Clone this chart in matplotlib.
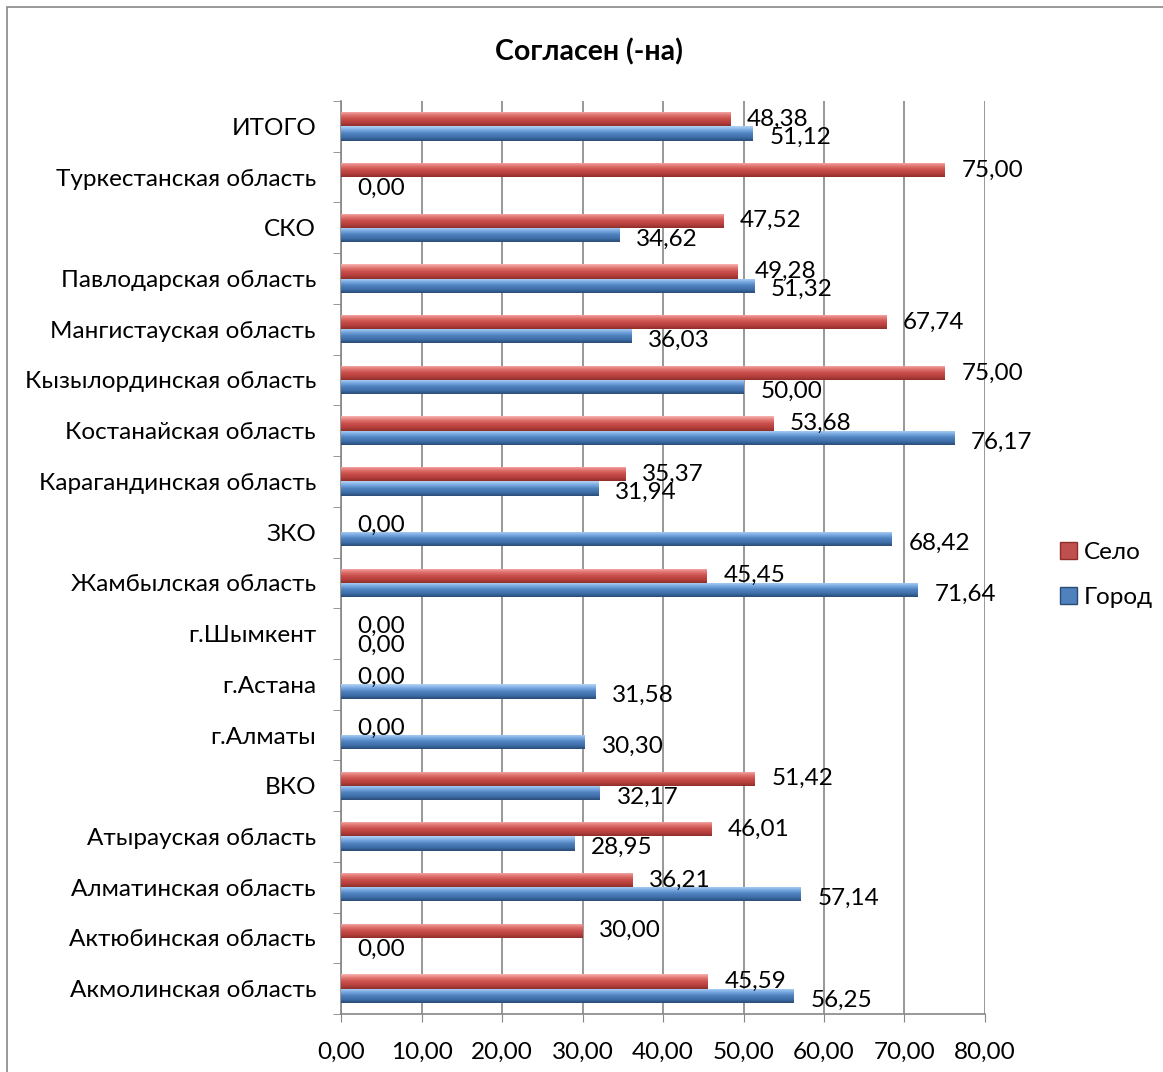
import matplotlib.pyplot as plt
import numpy as np
from matplotlib.patches import Patch, Rectangle
from matplotlib.ticker import FuncFormatter

plt.rcParams['font.family'] = ['Lato', 'DejaVu Sans']

# categories bottom -> top
regions = ['Акмолинская область', 'Актюбинская область', 'Алматинская область',
           'Атырауская область', 'ВКО', 'г.Алматы', 'г.Астана', 'г.Шымкент',
           'Жамбылская область', 'ЗКО', 'Карагандинская область',
           'Костанайская область', 'Кызылординская область',
           'Мангистауская область', 'Павлодарская область', 'СКО',
           'Туркестанская область', 'ИТОГО']
selo = [45.59, 30.00, 36.21, 46.01, 51.42, 0.00, 0.00, 0.00, 45.45, 0.00,
        35.37, 53.68, 75.00, 67.74, 49.28, 47.52, 75.00, 48.38]
gorod = [56.25, 0.00, 57.14, 28.95, 32.17, 30.30, 31.58, 0.00, 71.64, 68.42,
         31.94, 76.17, 50.00, 36.03, 51.32, 34.62, 0.00, 51.12]
x_ticks = [0, 10, 20, 30, 40, 50, 60, 70, 80]

red_grad = ['#F6B3B1', '#E27773', '#C9504C', '#B8403D', '#8E2F2C']
blue_grad = ['#B4D3F4', '#7AAAE2', '#4F81BD', '#3F6FAA', '#2B4C77']

FS = 17.5


def grad_array(cols, n=40):
    from matplotlib.colors import to_rgb
    rgb = np.array([to_rgb(c) for c in cols])
    pos = np.linspace(0, 1, len(cols))
    t = np.linspace(0, 1, n)
    out = np.stack([np.interp(t, pos, rgb[:, k]) for k in range(3)], axis=1)
    return out[:, None, :]


fig = plt.figure(figsize=(11.63, 10.72), dpi=100)
ax = fig.add_axes([341 / 1163, 1 - 1014 / 1072, (985 - 341) / 1163, (1014 - 101) / 1072])

y = np.arange(len(regions))
h = 0.28
bars_r = ax.barh(y + h / 2, selo, height=h, color='#C0504D', zorder=3)
bars_b = ax.barh(y - h / 2, gorod, height=h, color='#4F81BD', zorder=3)

# fake the glossy cylinder look with a vertical gradient per bar
for bars, cols in [(bars_r, red_grad), (bars_b, blue_grad)]:
    g = grad_array(cols)
    for p in bars:
        if p.get_width() <= 0:
            continue
        x0, y0 = p.get_x(), p.get_y()
        im = ax.imshow(g, extent=[x0, x0 + p.get_width(), y0, y0 + p.get_height()],
                       aspect='auto', origin='upper', zorder=4)
        im.set_clip_path(p)

for yy, v in zip(y, selo):
    ax.annotate(f'{v:.2f}'.replace('.', ','), (v, yy + h / 2), xytext=(12, 0),
                textcoords='offset points', va='center', ha='left', fontsize=FS, zorder=6)
for yy, v in zip(y, gorod):
    ax.annotate(f'{v:.2f}'.replace('.', ','), (v, yy - h / 2), xytext=(12, -3),
                textcoords='offset points', va='center', ha='left', fontsize=FS, zorder=6)

ax.set_xlim(0, 80)
ax.set_ylim(-0.5, len(regions) - 0.5)
ax.set_xticks(x_ticks)
ax.xaxis.set_major_formatter(FuncFormatter(lambda v, p: f'{v:.2f}'.replace('.', ',')))
ax.set_yticks(y)
ax.set_yticklabels(regions)
ax.set_yticks(np.arange(-0.5, len(regions), 1), minor=True)
ax.tick_params(axis='y', which='major', length=0, pad=18, labelsize=FS)
ax.tick_params(axis='y', which='minor', length=6, color='#868686')
ax.tick_params(axis='x', length=6, color='#868686', labelsize=FS, pad=14)
ax.grid(axis='x', color='#868686', linewidth=1.2, zorder=0)
ax.set_axisbelow(True)
for s in ['top', 'right']:
    ax.spines[s].set_visible(False)
for s in ['left', 'bottom']:
    ax.spines[s].set_color('#868686')
    ax.spines[s].set_linewidth(1.2)

fig.text(0.506, 1 - 52 / 1072, 'Согласен (-на)', ha='center', va='center',
         fontsize=20.5, fontweight='bold')

handles = [Patch(facecolor='#C0504D', edgecolor='#8E2F2C'),
           Patch(facecolor='#4F81BD', edgecolor='#2B4C77')]
fig.legend(handles, ['Село', 'Город'], loc='center left',
           bbox_to_anchor=(1038 / 1163, 1 - 575 / 1072), frameon=False,
           fontsize=FS, handlelength=0.7, handleheight=0.7, handletextpad=0.3,
           labelspacing=1.0)

fig.patches.append(Rectangle((7 / 1163, -0.01), 1.0, 1 - 7 / 1072 + 0.01,
                             transform=fig.transFigure, fill=False,
                             edgecolor='#888888', linewidth=1.2))

fig.savefig('out.png', dpi=100)
